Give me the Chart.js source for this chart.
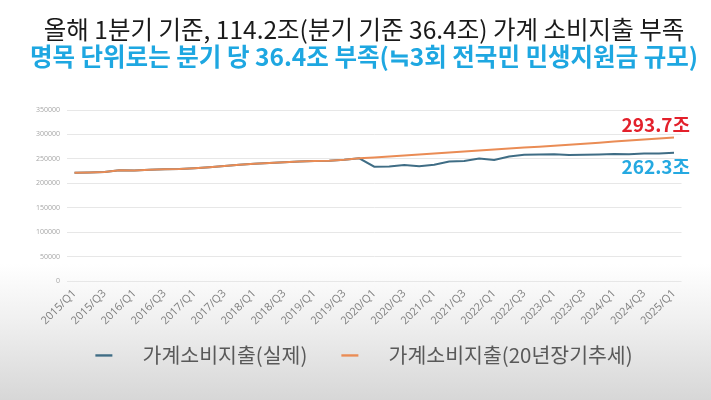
<!DOCTYPE html>
<html>
<head>
<meta charset="utf-8">
<script src="https://cdn.jsdelivr.net/npm/chart.js@4.4.1/dist/chart.umd.min.js"></script>
<style>
  html, body { margin: 0; padding: 0; }
  body {
    width: 711px; height: 400px; overflow: hidden;
    background: linear-gradient(to bottom, #ffffff 0%, #ffffff 66%, #f0f0f0 80%, #d7d7d7 100%);
  }
  canvas { display: block; }
</style>
</head>
<body>
<canvas id="myChart" width="711" height="400"></canvas>
<script>
// 분기 라벨 (2015/Q1 ~ 2025/Q1)
var quarters = [
  '2015/Q1','2015/Q2','2015/Q3','2015/Q4',
  '2016/Q1','2016/Q2','2016/Q3','2016/Q4',
  '2017/Q1','2017/Q2','2017/Q3','2017/Q4',
  '2018/Q1','2018/Q2','2018/Q3','2018/Q4',
  '2019/Q1','2019/Q2','2019/Q3','2019/Q4',
  '2020/Q1','2020/Q2','2020/Q3','2020/Q4',
  '2021/Q1','2021/Q2','2021/Q3','2021/Q4',
  '2022/Q1','2022/Q2','2022/Q3','2022/Q4',
  '2023/Q1','2023/Q2','2023/Q3','2023/Q4',
  '2024/Q1','2024/Q2','2024/Q3','2024/Q4',
  '2025/Q1'
];

// 가계소비지출 실제 (단위: 10억원)
var actualSpending = [
  221500, 222000, 223000, 226500,
  226000, 227500, 228500, 229000,
  231000, 233000, 235500, 238000,
  240000, 241500, 243000, 244500,
  245500, 246000, 248000, 251000,
  234000, 234500, 237500, 235000,
  238000, 244500, 245500, 250500,
  247500, 255000, 258500, 259000,
  259500, 258000, 258500, 259000,
  260000, 259500, 261000, 261000,
  262300
];

// 가계소비지출 20년 장기추세 (단위: 10억원)
var trendSpending = [
  221500, 222000, 223000, 226500,
  226000, 227500, 228500, 229000,
  231000, 233000, 235500, 238000,
  240000, 241500, 243000, 244500,
  245500, 246000, 248000, 251000,
  253000, 255000, 257000, 259000,
  261000, 263000, 265000, 267000,
  269000, 271000, 273000, 275000,
  277000, 279000, 281000, 283000,
  285500, 287500, 289500, 291500,
  293700
];

var seriesNames = ['가계소비지출(실제)', '가계소비지출(20년장기추세)'];
var titleText = '올해 1분기 기준, 114.2조(분기 기준 36.4조) 가계 소비지출 부족';
var subtitleText = '명목 단위로는 분기 당 36.4조 부족(≒3회 전국민 민생지원금 규모)';

var KR = '"Noto Sans CJK KR", "Noto Sans", sans-serif';
var blueLine = '#3f6d85';
var orangeLine = '#ea8c55';

// 범례 아이콘: 왼쪽 여백 + 짧은 선 + 글자까지의 여백
function legendIcon(color) {
  var c = document.createElement('canvas');
  c.width = 63; c.height = 4;
  var g = c.getContext('2d');
  g.fillStyle = color;
  g.fillRect(26, 1, 17, 2.5);
  return c;
}

// 두 줄 제목 (검정 / 하늘색)
var headerText = {
  id: 'headerText',
  afterDraw: function (chart) {
    var ctx = chart.ctx;
    ctx.save();
    ctx.textAlign = 'center';
    ctx.textBaseline = 'middle';
    ctx.fillStyle = '#1a1a1a';
    ctx.font = 'normal 24.5px ' + KR;
    ctx.fillText(titleText, 364, 29.5);
    ctx.fillStyle = '#1ea7e1';
    ctx.font = 'bold 24.5px ' + KR;
    ctx.fillText(subtitleText, 364, 57);
    ctx.restore();
  }
};

// 마지막 값 라벨 (293.7조 / 262.3조)
var endLabels = {
  id: 'endLabels',
  afterDatasetsDraw: function (chart) {
    var ctx = chart.ctx;
    var a = chart.getDatasetMeta(0).data;
    var t = chart.getDatasetMeta(1).data;
    var pa = a[a.length - 1], pt = t[t.length - 1];
    ctx.save();
    ctx.font = 'bold 19px ' + KR;
    ctx.textAlign = 'right';
    ctx.textBaseline = 'middle';
    ctx.fillStyle = '#e3202b';
    ctx.fillText((trendSpending[trendSpending.length - 1] / 1000).toFixed(1) + '조', pt.x + 16, pt.y - 13);
    ctx.fillStyle = '#25a9e1';
    ctx.fillText((actualSpending[actualSpending.length - 1] / 1000).toFixed(1) + '조', pa.x + 16, pa.y + 14);
    ctx.restore();
  }
};

var ctx = document.getElementById('myChart').getContext('2d');
var myChart = new Chart(ctx, {
  type: 'line',
  data: {
    labels: quarters,
    datasets: [{
      label: seriesNames[0],
      data: actualSpending,
      borderColor: blueLine,
      borderWidth: 2,
      pointRadius: 0,
      tension: 0,
      fill: false,
      order: 1
    }, {
      label: seriesNames[1],
      data: trendSpending,
      borderColor: orangeLine,
      borderWidth: 2,
      pointRadius: 0,
      tension: 0,
      fill: false,
      order: 0
    }]
  },
  plugins: [endLabels, headerText],
  options: {
    responsive: false,
    animation: false,
    devicePixelRatio: 1,
    layout: { padding: { left: 20.5, right: 29.5, top: 110, bottom: 24.5 } },
    scales: {
      x: {
        offset: true,
        grid: { display: false, drawTicks: false },
        border: { display: false },
        ticks: {
          autoSkip: false,
          maxRotation: 45,
          minRotation: 45,
          padding: 6,
          color: '#7f7f7f',
          font: { family: '"Open Sans", sans-serif', size: 11 },
          callback: function (value, index) {
            return index % 2 === 0 ? quarters[index] : '';
          }
        },
        afterFit: function (scale) { scale.height = 56; }
      },
      y: {
        min: 0,
        max: 350000,
        grid: { color: '#e7e7e7', drawTicks: false, lineWidth: 1 },
        border: { display: false },
        ticks: {
          stepSize: 50000,
          padding: 7,
          color: '#a6a6a6',
          font: { family: '"Open Sans", sans-serif', size: 7 },
          callback: function (value) { return String(value); }
        },
        afterFit: function (scale) { scale.width = 46.5; }
      }
    },
    plugins: {
      title: { display: false },
      legend: {
        position: 'bottom',
        labels: {
          usePointStyle: true,
          pointStyleWidth: 63,
          padding: 8,
          color: '#595959',
          font: { family: KR, size: 20.5 },
          sort: function (a, b) { return a.datasetIndex - b.datasetIndex; },
          generateLabels: function (chart) {
            var items = Chart.defaults.plugins.legend.labels.generateLabels(chart);
            items.forEach(function (it) {
              it.pointStyle = legendIcon(it.datasetIndex === 0 ? blueLine : orangeLine);
            });
            return items;
          }
        }
      },
      tooltip: { enabled: false }
    }
  }
});
</script>
</body>
</html>
